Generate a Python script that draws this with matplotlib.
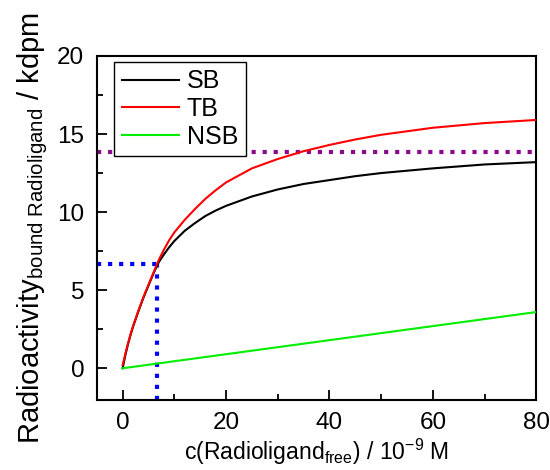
import numpy as np
import matplotlib
matplotlib.use('Agg')
import matplotlib.pyplot as plt
from matplotlib.ticker import MultipleLocator

plt.rcParams['font.family'] = ['Liberation Sans', 'DejaVu Sans']
plt.rcParams['mathtext.fontset'] = 'custom'
plt.rcParams['mathtext.rm'] = 'Liberation Sans'
plt.rcParams['mathtext.it'] = 'Liberation Sans:italic'

# values
conc = [0, 0.5, 1, 1.5, 2, 3, 4, 5, 6, 7, 8, 9, 10, 12, 14, 16, 18, 20, 25,
        30, 35, 40, 45, 50, 60, 70, 80]
sb = [0, 0.8, 1.5, 2.1, 2.65, 3.6, 4.5, 5.3, 6.1, 6.8, 7.3, 7.75, 8.15,
      8.8, 9.3, 9.75, 10.1, 10.4, 11.0, 11.45, 11.8, 12.05, 12.3, 12.5,
      12.8, 13.05, 13.2]
tb = [0.2, 0.9, 1.55, 2.15, 2.7, 3.65, 4.55, 5.35, 6.15, 6.95, 7.6, 8.2, 8.7,
      9.5, 10.2, 10.85, 11.4, 11.9, 12.8, 13.4, 13.9, 14.3, 14.65, 14.95,
      15.4, 15.7, 15.9]
nsb_x = [0, 80]
nsb = [0, 3.6]

bmax = 13.85
kd = 6.7
half = 6.7

fig = plt.figure(figsize=(5.5, 4.7), dpi=100)
ax = fig.add_axes([0.176, 0.150, 0.799, 0.731])

ax.plot([-5, 80], [bmax, bmax], color='#8b0a8b', linestyle=':', linewidth=3.0, zorder=1)
ax.plot([-5, kd], [half, half], color='#0000ff', linestyle=':', linewidth=3.0, zorder=1)
ax.plot([kd, kd], [-2, half], color='#0000ff', linestyle=':', linewidth=3.0, zorder=1)

ax.plot(conc, sb, color='black', linewidth=1.5, label='SB', zorder=3)
ax.plot(conc, tb, color='#ff0000', linewidth=1.5, label='TB', zorder=3)
ax.plot(nsb_x, nsb, color='#00ee00', linewidth=1.5, label='NSB', zorder=3)

ax.set_xlim(-5, 80)
ax.set_ylim(-2, 20)
ax.xaxis.set_major_locator(MultipleLocator(20))
ax.xaxis.set_minor_locator(MultipleLocator(10))
ax.yaxis.set_major_locator(MultipleLocator(5))
ax.yaxis.set_minor_locator(MultipleLocator(2.5))
ax.tick_params(which='both', direction='in', labelsize=17.5, width=1.3)
ax.tick_params(which='major', length=7, pad=9)
ax.tick_params(which='minor', length=4)
for s in ax.spines.values():
    s.set_linewidth(1.5)

ax.set_xlabel(r'c(Radioligand$_{\mathrm{free}}$) / 10$^{\mathrm{-9}}$ M', fontsize=16.5, labelpad=2)
ax.set_ylabel(r'Radioactivity$_{\mathrm{bound\ Radioligand}}$ / kdpm', fontsize=21, labelpad=5)

leg = ax.legend(loc='upper left', bbox_to_anchor=(0.04, 0.983), borderaxespad=0,
                fontsize=18, handlelength=2.3, labelspacing=0.15, handletextpad=0.3,
                borderpad=0.3, fancybox=False, framealpha=1, edgecolor='black')
leg.get_frame().set_linewidth(1.0)
leg.set_zorder(5)

plt.savefig('out.png', dpi=100)
plt.close()
